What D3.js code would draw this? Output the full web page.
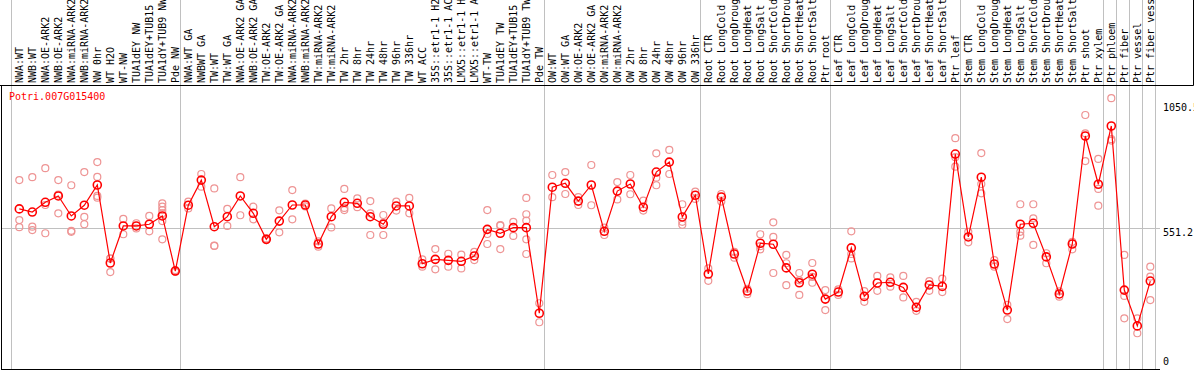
<!DOCTYPE html>
<html>
<head>
<meta charset="utf-8">
<script src="https://d3js.org/d3.v7.min.js"></script>
<style>
  body { margin: 0; background: #fff; }
  text { font-family: "DejaVu Sans Mono", "Liberation Mono", monospace; font-size: 10px; }
</style>
</head>
<body>
<div id="chart"></div>
<script>
var svgWidth = 1194;
var svgHeight = 370;

var geneName = "Potri.007G015400";

var categories = [
  "NWA:WT", "NWB:WT", "NWA:OE-ARK2", "NWB:OE-ARK2", "NWA:miRNA-ARK2", "NWB:miRNA-ARK2",
  "NW 0hr", "WT H2O", "WT-NW", "TUA1dEY NW", "TUA1dEY+TUB15 NW", "TUA1dY+TUB9 NW", "Pde NW",
  "NWA:WT GA", "NWBWT GA", "TW:WT", "TW:WT GA", "NWA:OE-ARK2 GA", "NWB:OE-ARK2 GA",
  "TW:OE-ARK2", "TW:OE-ARK2 GA", "NWA:miRNA-ARK2 GA", "NWB:miRNA-ARK2 GA", "TW:miRNA-ARK2",
  "TW:miRNA-ARK2 GA", "TW 2hr", "TW 8hr", "TW 24hr", "TW 48hr", "TW 96hr", "TW 336hr",
  "WT ACC", "35S::etr1-1 H2O", "35S::etr1-1 ACC", "LMX5::etr1-1 H2O", "LMX5::etr1-1 ACC",
  "WT-TW", "TUA1dEY TW", "TUA1dEY+TUB15 TW", "TUA1dY+TUB9 TW", "Pde TW",
  "OW:WT", "OW:WT GA", "OW:OE-ARK2", "OW:OE-ARK2 GA", "OW:miRNA-ARK2", "OW:miRNA-ARK2 GA",
  "OW 2hr", "OW 8hr", "OW 24hr", "OW 48hr", "OW 96hr", "OW 336hr",
  "Root CTR", "Root LongCold", "Root LongDrought", "Root LongHeat", "Root LongSalt",
  "Root ShortCold", "Root ShortDrought", "Root ShortHeat", "Root ShortSalt", "Ptr root",
  "Leaf CTR", "Leaf LongCold", "Leaf LongDrought", "Leaf LongHeat", "Leaf LongSalt",
  "Leaf ShortCold", "Leaf ShortDrought", "Leaf ShortHeat", "Leaf ShortSalt", "Ptr leaf",
  "Stem CTR", "Stem LongCold", "Stem LongDrought", "Stem LongHeat", "Stem LongSalt",
  "Stem ShortCold", "Stem ShortDrought", "Stem ShortHeat", "Stem ShortSalt",
  "Ptr shoot", "Ptr xylem", "Ptr phloem", "Ptr fiber", "Ptr vessel", "Ptr fiber vessel"
];

// mean expression per sample
var means = [
  628, 615, 655, 681, 599, 643, 726, 406, 558, 558, 565, 599, 373,
  643, 746, 555, 596, 681, 610, 503, 578, 644, 644, 484, 596, 655, 651, 596, 565, 640, 640,
  403, 421, 417, 413, 435, 544, 528, 551, 551, 200,
  717, 733, 660, 726, 536, 701, 730, 635, 779, 820, 595, 684,
  361, 677, 443, 291, 487, 483, 386, 325, 360, 258,
  287, 468, 269, 324, 327, 306, 224, 316, 310, 853,
  513, 758, 402, 213, 565, 569, 431, 279, 484, 927, 729, 968, 295, 148, 332
];

// individual replicates per sample
var replicates = [
  [746, 582, 553], [758, 555, 541], [795, 644, 528], [746, 610, 687], [725, 534, 538],
  [779, 595, 565], [820, 759, 681, 674], [425, 369, 424], [587, 524], [569, 548],
  [599, 536], [651, 637, 623, 610, 578, 503], [377, 370, 372],
  [658, 630], [771, 719], [712, 476, 477], [628, 558], [758, 602], [637, 585],
  [507, 500], [622, 532], [705, 585], [650, 638], [473, 495], [630, 552],
  [710, 623, 632], [671, 635], [660, 610, 521], [603, 521, 571], [658, 621], [673, 610],
  [421, 391], [463, 380], [444, 391], [440, 384], [452, 418], [623, 525, 484],
  [562, 463, 559], [575, 517], [673, 606, 580, 503, 443], [241, 163],
  [767, 676], [779, 689], [676, 644], [808, 643], [521, 551], [738, 667],
  [767, 688], [662, 621], [856, 756, 725], [870, 771], [647, 563, 575], [699, 669],
  [384, 333], [689, 658], [452, 428], [300, 278], [524, 462, 475], [573, 513, 365],
  [439, 405, 315], [365, 275, 335], [406, 325, 349], [295, 213],
  [298, 275], [536, 425, 443], [291, 247], [353, 292], [347, 309], [353, 265],
  [247, 210], [332, 292], [342, 287], [918, 801, 840],
  [534, 491], [857, 730, 692], [418, 391], [234, 176], [647, 534, 518], [647, 589, 480],
  [446, 405], [268, 290], [493, 462], [1013, 938, 824], [833, 710, 641],
  [1082, 908, 914], [439, 271, 179], [179, 118], [391, 350, 254]
];

// a grey separator is drawn in front of each of these samples
var groupStarts = ["NWA:WT", "NWA:WT GA", "OW:WT", "Root CTR", "Leaf CTR", "Stem CTR",
  "Ptr phloem", "Ptr fiber", "Ptr vessel", "Ptr fiber vessel"];

var yTicks = [0, 551.2, 1050];
var yTickLabels = ["0", "551.2", "1050.5"];

var labelBottom = 83;
var frameTop = 85.5;
var frameBottom = 369.5;
var plotRight = 1160;

var svg = d3.select("#chart")
  .append("svg")
  .attr("width", svgWidth)
  .attr("height", svgHeight);

var xScale = d3.scalePoint()
  .domain(categories)
  .range([19.3, 19.3 + 13 * (categories.length - 1)]);

var yScale = d3.scaleLinear()
  .domain([0, 1050])
  .range([362, 106]);

// vertical group separators, full height
var sepX = groupStarts.map(d => xScale(d) - 8);
sepX.push(xScale(categories[categories.length - 1]) + 5);

svg.append("g")
  .selectAll("line")
  .data(sepX)
  .enter()
  .append("line")
  .attr("x1", d => Math.round(d) + 0.5)
  .attr("x2", d => Math.round(d) + 0.5)
  .attr("y1", 0)
  .attr("y2", frameBottom)
  .attr("stroke", "#c0c0c0")
  .attr("stroke-width", 1);

// horizontal reference line at the middle tick
svg.append("line")
  .attr("x1", 1)
  .attr("x2", plotRight)
  .attr("y1", Math.round(yScale(551.2)) + 0.5)
  .attr("y2", Math.round(yScale(551.2)) + 0.5)
  .attr("stroke", "#c0c0c0");

// frame
svg.append("line")
  .attr("x1", 0).attr("x2", 1193.5)
  .attr("y1", frameTop).attr("y2", frameTop)
  .attr("stroke", "#000");
svg.append("line")
  .attr("x1", 1193.5).attr("x2", 1193.5)
  .attr("y1", 0).attr("y2", frameTop)
  .attr("stroke", "#000");
svg.append("line")
  .attr("x1", 1.5).attr("x2", 1.5)
  .attr("y1", frameTop).attr("y2", frameBottom)
  .attr("stroke", "#000");
svg.append("line")
  .attr("x1", 1).attr("x2", plotRight)
  .attr("y1", frameBottom).attr("y2", frameBottom)
  .attr("stroke", "#000");

// sample labels, rotated, reading upwards
svg.append("g")
  .selectAll("text")
  .data(categories)
  .enter()
  .append("text")
  .attr("transform", d => `translate(${xScale(d) + 4}, ${labelBottom}) rotate(-90)`)
  .attr("fill", "#000")
  .text(d => d);

// y axis labels (bottom one sits on the frame, top one just under its value)
var yLabelShift = [3, 8, 5];
svg.append("g")
  .selectAll("text")
  .data(yTicks)
  .enter()
  .append("text")
  .attr("x", 1163)
  .attr("y", (d, i) => yScale(d) + yLabelShift[i])
  .attr("fill", "#000")
  .text((d, i) => yTickLabels[i]);

// gene name
svg.append("text")
  .attr("x", 9)
  .attr("y", 100)
  .attr("fill", "#ff0000")
  .text(geneName);

// replicate circles
var repPoints = [];
categories.forEach(function(c, i) {
  replicates[i].forEach(function(v) {
    repPoints.push({ cat: c, value: v });
  });
});

svg.append("g")
  .selectAll("circle")
  .data(repPoints)
  .enter()
  .append("circle")
  .attr("cx", d => xScale(d.cat))
  .attr("cy", d => yScale(d.value))
  .attr("r", 3.5)
  .attr("fill", "none")
  .attr("stroke", "#ee9494")
  .attr("stroke-width", 1.2);

// mean line
var line = d3.line()
  .x((d, i) => xScale(categories[i]))
  .y(d => yScale(d));

svg.append("path")
  .datum(means)
  .attr("d", line)
  .attr("fill", "none")
  .attr("stroke", "#ff0000")
  .attr("stroke-width", 1.2);

svg.append("g")
  .selectAll("circle")
  .data(means)
  .enter()
  .append("circle")
  .attr("cx", (d, i) => xScale(categories[i]))
  .attr("cy", d => yScale(d))
  .attr("r", 4)
  .attr("fill", "none")
  .attr("stroke", "#ff0000")
  .attr("stroke-width", 1.6);
</script>
</body>
</html>
